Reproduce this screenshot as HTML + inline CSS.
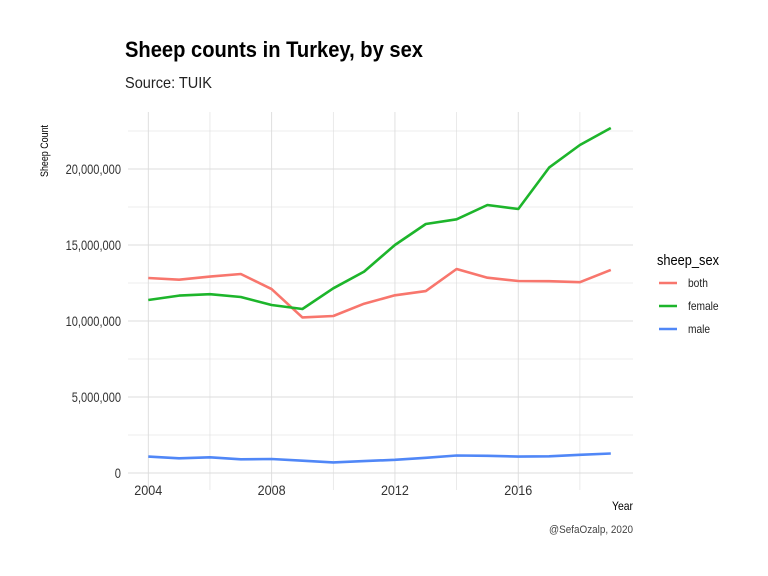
<!DOCTYPE html>
<html><head><meta charset="utf-8">
<style>
html,body{margin:0;padding:0;background:#fff;}
svg{display:block;font-family:"Liberation Sans Narrow","Liberation Sans",sans-serif;}
</style></head>
<body>
<svg id="chart" width="768" height="576" viewBox="0 0 768 576">
<text x="125" y="57" font-size="22" font-weight="bold" fill="#000" textLength="298" lengthAdjust="spacingAndGlyphs">Sheep counts in Turkey, by sex</text>
<text x="125" y="88" font-size="16" fill="#222" textLength="87" lengthAdjust="spacingAndGlyphs">Source: TUIK</text>
<g id="grid"></g>
<g id="yticks"></g>
<g id="xticks"></g>
<g id="lines"></g>
<text transform="translate(48,151) rotate(-90)" text-anchor="middle" font-size="11" fill="#000" textLength="52" lengthAdjust="spacingAndGlyphs">Sheep Count</text>
<text x="633" y="510" text-anchor="end" font-size="12" fill="#000" textLength="21" lengthAdjust="spacingAndGlyphs">Year</text>
<text x="633" y="533" text-anchor="end" font-size="11" fill="#444" textLength="84" lengthAdjust="spacingAndGlyphs">@SefaOzalp, 2020</text>
<g id="legend">
<text x="657" y="265" font-size="15" fill="#000" textLength="62" lengthAdjust="spacingAndGlyphs">sheep_sex</text>
</g>
</svg>
<script>
const years = [2004,2005,2006,2007,2008,2009,2010,2011,2012,2013,2014,2015,2016,2017,2018,2019];
const both = [12.83,12.72,12.92,13.09,12.10,10.24,10.33,11.14,11.69,11.97,13.42,12.85,12.63,12.62,12.55,13.36];
const female = [11.38,11.67,11.76,11.58,11.05,10.79,12.15,13.25,15.0,16.38,16.69,17.63,17.37,20.09,21.58,22.70];
const male = [1.08,0.97,1.03,0.90,0.92,0.81,0.70,0.78,0.87,1.00,1.15,1.13,1.08,1.10,1.20,1.28];
const seriesNames = ["both","female","male"];
const yTicks = [0,5,10,15,20];
const yTickLabels = ["0","5,000,000","10,000,000","15,000,000","20,000,000"];
const xTicks = [2004,2008,2012,2016];

const NS="http://www.w3.org/2000/svg";
const L=128,R=633,T=112,B=490;
const x=v=>148.3+(v-2004)*30.83;
const y=v=>473-v*15.2;
function mk(tag,attrs,parent){const e=document.createElementNS(NS,tag);for(const k in attrs)e.setAttribute(k,attrs[k]);parent.appendChild(e);return e;}
function narrow(t,f){const w=t.getComputedTextLength();t.setAttribute('textLength',(w*f).toFixed(1));t.setAttribute('lengthAdjust','spacingAndGlyphs');}
const grid=document.getElementById('grid');
for(let v=0;v<=22.5;v+=2.5){
  const g=mk('line',{x1:L,x2:R,y1:y(v),y2:y(v),stroke:'#dcdcdc','stroke-width':(v%5===0)?0.9:0.6},grid);
  
  
}
for(let yr=2004;yr<=2018;yr+=2){
  const g=mk('line',{x1:x(yr),x2:x(yr),y1:T,y2:B,stroke:'#dcdcdc','stroke-width':(yr%4===0)?0.9:0.6},grid);
  
  
}
const yt=document.getElementById('yticks');
yTicks.forEach((v,i)=>{
  const t=mk('text',{x:121,y:y(v)+5,'text-anchor':'end','font-size':14,fill:'#333'},yt);
  t.textContent=yTickLabels[i];
  
  
  narrow(t,0.79);
});
const xt=document.getElementById('xticks');
xTicks.forEach(v=>{
  const t=mk('text',{x:x(v),y:495,'text-anchor':'middle','font-size':14,fill:'#333'},xt);
  t.textContent=v;
  
  
  narrow(t,0.9);
});
const colors=["#f8766d","#1db52b","#5087f7"];
const data=[both,female,male];
const lg=document.getElementById('lines');
data.forEach((s,i)=>{
  const d=s.map((v,j)=>(j?'L':'M')+x(years[j]).toFixed(1)+','+y(v).toFixed(1)).join(' ');
  const p=mk('path',{d:d,fill:'none',stroke:colors[i],'stroke-width':2.6,'stroke-linejoin':'round'},lg);
  
  
});
const leg=document.getElementById('legend');
seriesNames.forEach((n,i)=>{
  const cy=283+i*23;
  const l=mk('line',{x1:659,x2:677,y1:cy,y2:cy,stroke:colors[i],'stroke-width':2.6},leg);
  
  
  const t=mk('text',{x:688,y:cy+4,'font-size':12,fill:'#222'},leg);
  t.textContent=n;
  
  
  narrow(t,0.85);
});
</script>
</body></html>
